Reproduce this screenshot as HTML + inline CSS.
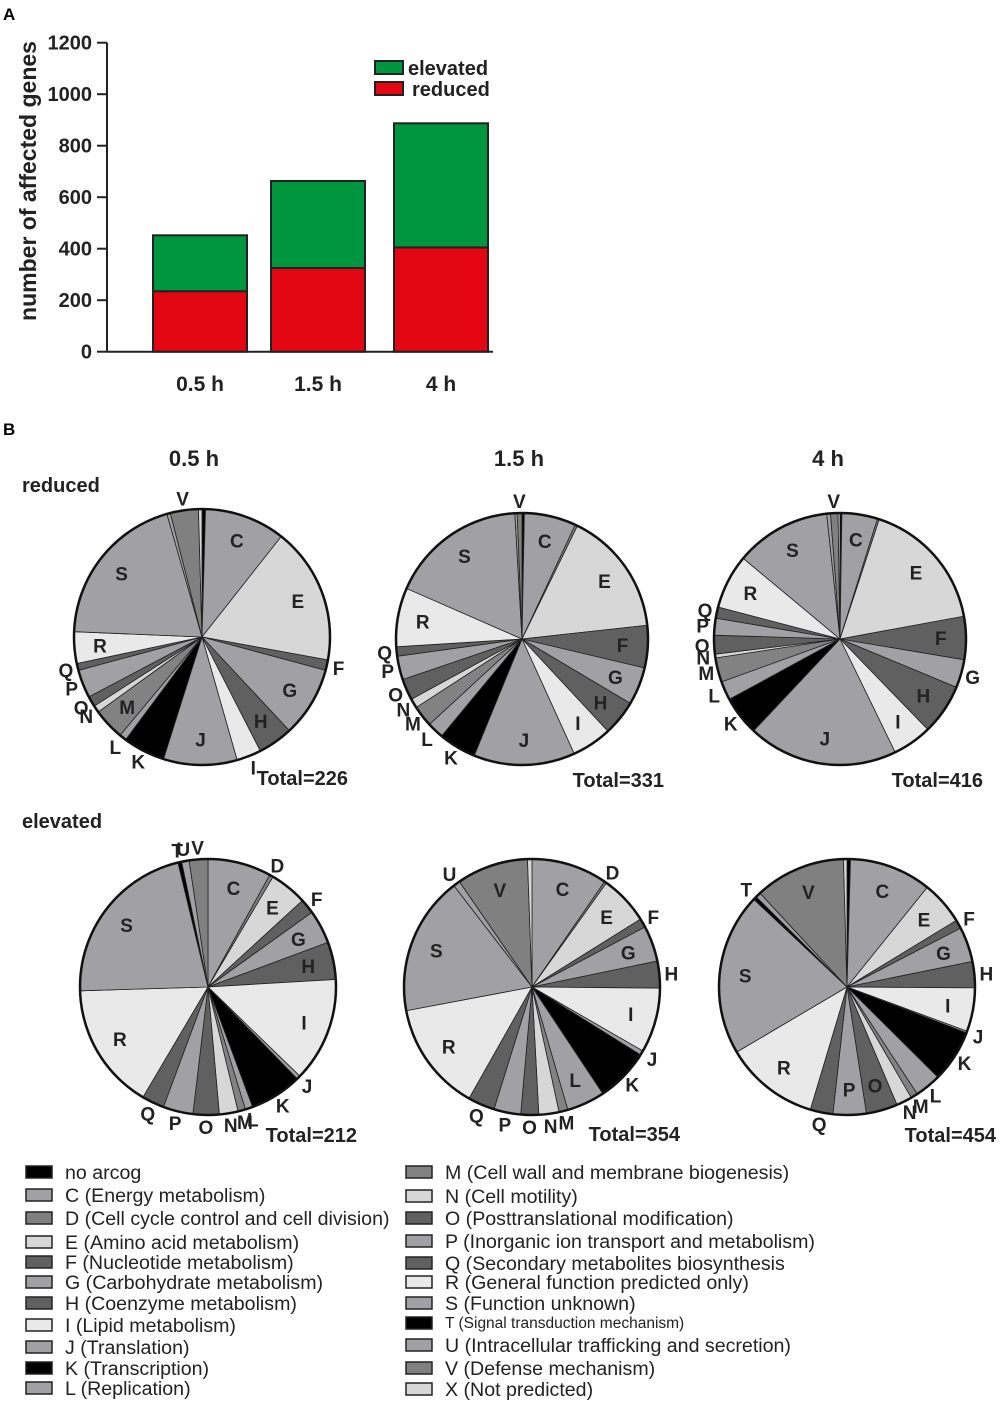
<!DOCTYPE html>
<html><head><meta charset="utf-8"><style>
body{margin:0;background:#fff}
svg{display:block;font-family:"Liberation Sans",Arial,sans-serif}
</style></head><body>
<svg id="fig" width="1000" height="1403" viewBox="0 0 1000 1403">
<text x="3" y="20" font-size="17" font-weight="bold">A</text>
<text x="3" y="435" font-size="17" font-weight="bold">B</text>
<g id="bar"></g>
<g id="pies"></g>
<g id="legend"></g>
</svg>
<script>
const barCats = ["0.5 h","1.5 h","4 h"];
const barReduced = [235,325,405];
const barElevated = [217,338,482];
const yTicks = [0,200,400,600,800,1000,1200];

const cogKeys = ["no","C","D","E","F","G","H","I","J","K","L","M","N","O","P","Q","R","S","T","U","V","X"];
const pieRed05 = [1,23,0,39,3,20,10,7,21,12,2,9,2,3,8,2,9,45,0,1,8,1];
const pieRed15 = [1,22,1,53,18,16,15,17,43,16,7,9,4,9,10,4,25,58,0,1,2,0];
const pieRed4  = [1,19,1,71,23,15,27,21,80,21,10,13,2,10,9,6,29,51,0,2,4,1];
const pieEl05  = [0,17,1,10,4,9,10,28,1,14,2,2,5,7,8,6,34,46,1,2,5,0];
const pieEl15  = [0,34,1,22,4,16,12,29,2,24,17,4,9,8,12,12,49,62,0,3,32,2];
const pieEl4   = [2,47,0,25,5,20,15,25,1,30,15,4,9,18,19,13,54,93,2,3,52,2];
const pieTotals = ["Total=226","Total=331","Total=416","Total=212","Total=354","Total=454"];

const colors = {no:"#000",C:"#a1a1a5",D:"#808080",E:"#d7d7d7",F:"#606060",G:"#a1a1a5",H:"#606060",I:"#e9e9e9",J:"#a1a1a5",K:"#000",L:"#a1a1a5",M:"#828282",N:"#d7d7d7",O:"#606060",P:"#a1a1a5",Q:"#606060",R:"#e9e9e9",S:"#a1a1a5",T:"#000",U:"#a1a1a5",V:"#808080",X:"#d7d7d7"};
const NS="http://www.w3.org/2000/svg";
function mk(tag,attrs,parent){const e=document.createElementNS(NS,tag);for(const k in attrs)e.setAttribute(k,attrs[k]);parent.appendChild(e);return e;}

// ---- bar chart
const bar=document.getElementById('bar');
const y0=351.7, y1=42.7, axX=107;
const yS=v=>y0-(y0-y1)*v/1200;
const barX=[153,271,394], barW=94;
let ax=mk('line',{x1:axX,y1:y1,x2:axX,y2:y0,stroke:'#222','stroke-width':2},bar);

let xa=mk('line',{x1:axX,y1:y0,x2:493,y2:y0,stroke:'#222','stroke-width':2},bar);

yTicks.forEach(t=>{
  const tl=mk('line',{x1:97,x2:axX,y1:yS(t),y2:yS(t),stroke:'#222','stroke-width':2},bar);
  
  const tx=mk('text',{x:92,y:yS(t)+7,'text-anchor':'end','font-size':20,'font-weight':'bold',fill:'#222'},bar);
  tx.textContent=t;
  
});
barCats.forEach((c,i)=>{
  const r=mk('rect',{x:barX[i],y:yS(barReduced[i]),width:barW,height:y0-yS(barReduced[i]),fill:'#e30613',stroke:'#222','stroke-width':2},bar);
  
  const tot=barReduced[i]+barElevated[i];
  const g=mk('rect',{x:barX[i],y:yS(tot),width:barW,height:yS(barReduced[i])-yS(tot),fill:'#009640',stroke:'#222','stroke-width':2},bar);
  
  const t=mk('text',{x:barX[i]+barW/2,y:391,'text-anchor':'middle','font-size':21,'font-weight':'bold',fill:'#222'},bar);
  t.textContent=c;
  
});
let yt=mk('text',{x:0,y:0,transform:'translate(36,181) rotate(-90)','text-anchor':'middle','font-size':23,'font-weight':'bold',fill:'#222'},bar);
yt.textContent='number of affected genes';

[['elevated','#009640',61,408],['reduced','#e30613',82,412]].forEach(l=>{
  const r=mk('rect',{x:375,y:l[2],width:28,height:13,fill:l[1],stroke:'#222','stroke-width':2},bar);
  
  const t=mk('text',{x:l[3],y:l[2]+14,'font-size':20,'font-weight':'bold',fill:'#222'},bar);
  t.textContent=l[0];
  
});

// ---- pies
const pies=document.getElementById('pies');
[['0.5 h',194],['1.5 h',519],['4 h',828]].forEach(h=>{
  const t=mk('text',{x:h[1],y:466,'text-anchor':'middle','font-size':22,'font-weight':'bold',fill:'#222'},pies);
  t.textContent=h[0];
  
});
[['reduced',492],['elevated',828]].forEach(h=>{
  const t=mk('text',{x:22,y:h[1],'font-size':20,'font-weight':'bold',fill:'#222'},pies);
  t.textContent=h[0];
  
});
const pieData=[pieRed05,pieRed15,pieRed4,pieEl05,pieEl15,pieEl4];
const centers=[[202,637,128],[522,639,126],[840,639,126],[208,987,128],[532,987,128],[847,987,128]];
const totalPos=[[348,785],[664,787],[983,787],[357,1142],[680,1141],[996,1142]];
const hideLbl=[["D","U"],["D","U"],["D","U"],[],[],["D","U"]];
pieData.forEach((vals,pi)=>{
  const [cx,cy,r]=centers[pi];
  const g=mk('g',{},pies);
  
  const sum=vals.reduce((a,b)=>a+b,0);
  let a0=0;
  vals.forEach((v,i)=>{
    if(v<=0)return;
    const a1=a0+v/sum*2*Math.PI;
    const x0=cx+r*Math.sin(a0),yy0=cy-r*Math.cos(a0),x1=cx+r*Math.sin(a1),yy1=cy-r*Math.cos(a1);
    const p=mk('path',{d:`M${cx},${cy}L${x0},${yy0}A${r},${r} 0 ${a1-a0>Math.PI?1:0} 1 ${x1},${yy1}Z`,fill:colors[cogKeys[i]],stroke:'#222','stroke-width':0.8},g);
    
    const k=cogKeys[i];
    if(k!=="no"&&k!=="X"&&hideLbl[pi].indexOf(k)<0){
      const am=(a0+a1)/2, big=(a1-a0)>0.24 && k!=="K";
      const lr=big?r*0.8:r+12;
      const t=mk('text',{x:cx+lr*Math.sin(am),y:cy-lr*Math.cos(am)+7,'text-anchor':'middle','font-size':19,'font-weight':'bold',fill:'#222'},g);
      t.textContent=k;
      
    }
    a0=a1;
  });
  mk('circle',{cx:cx,cy:cy,r:r,fill:'none',stroke:'#111','stroke-width':2.5},g);
  const t=mk('text',{x:totalPos[pi][0],y:totalPos[pi][1],'text-anchor':'end','font-size':20,'font-weight':'bold',fill:'#222'},g);
  t.textContent=pieTotals[pi];
  
});

// ---- legend
const leg=document.getElementById('legend');
const legLeft=[["no","no arcog"],["C","C (Energy metabolism)"],["D","D (Cell cycle control and cell division)"],["E","E (Amino acid metabolism)"],["F","F (Nucleotide metabolism)"],["G","G (Carbohydrate metabolism)"],["H","H (Coenzyme metabolism)"],["I","I (Lipid metabolism)"],["J","J (Translation)"],["K","K (Transcription)"],["L","L (Replication)"]];
const legRight=[["M","M (Cell wall and membrane biogenesis)"],["N","N (Cell motility)"],["O","O (Posttranslational modification)"],["P","P (Inorganic ion transport and metabolism)"],["Q","Q (Secondary metabolites biosynthesis"],["R","R (General function predicted only)"],["S","S (Function unknown)"],["T","T (Signal transduction mechanism)"],["U","U (Intracellular trafficking and secretion)"],["V","V (Defense mechanism)"],["X","X (Not predicted)"]];
const rowsL=[1172,1195,1218,1242,1262,1282,1303,1325,1347,1368,1388];
const rowsR=[1172,1196,1218,1241,1263,1282,1303,1323,1345,1368,1389];
function legCol(items,rows,bx,tx){
  items.forEach((it,i)=>{
    const r=mk('rect',{x:bx,y:rows[i]-6,width:26,height:12,fill:colors[it[0]],stroke:'#222','stroke-width':1.5},leg);
    
    const small=it[0]==="T";
    const t=mk('text',{x:tx,y:rows[i]+(small?5:7),'font-size':small?15.5:19.6,fill:'#222'},leg);
    t.textContent=it[1];
    
  });
}
legCol(legLeft,rowsL,26,65);
legCol(legRight,rowsR,406,445);
</script>
</body></html>
